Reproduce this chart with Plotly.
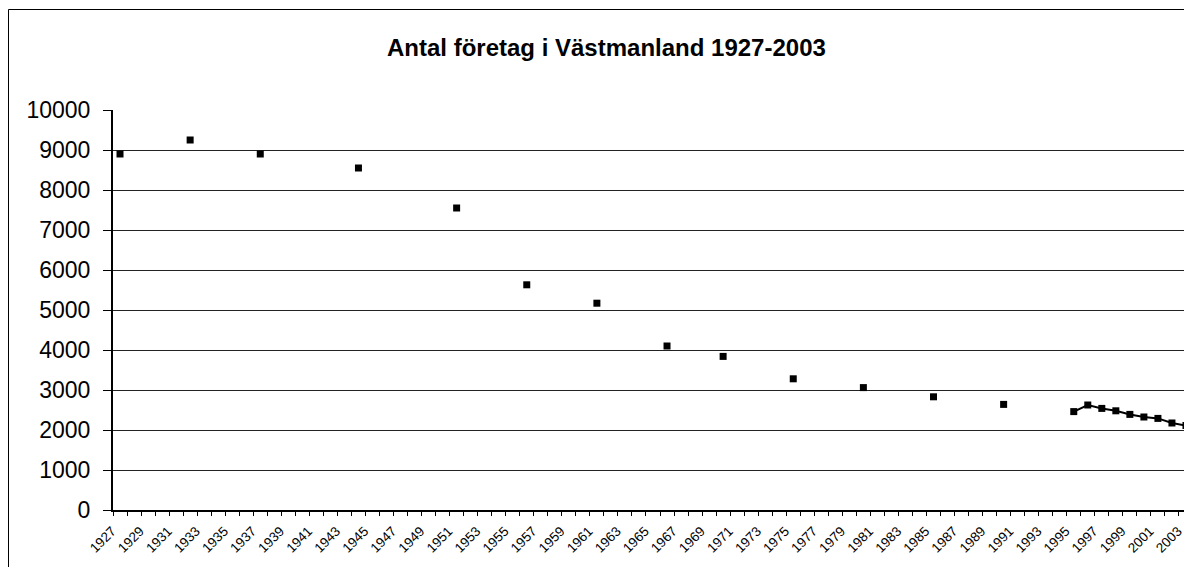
import plotly.graph_objects as go

# Observed data (year, number of companies)
years = [1927, 1932, 1937, 1944, 1951, 1956, 1961, 1966, 1970, 1975, 1980, 1985, 1990,
         1995, 1996, 1997, 1998, 1999, 2000, 2001, 2002, 2003]
values = [8900, 9250, 8900, 8550, 7550, 5630, 5170, 4100, 3840, 3280, 3060, 2830, 2640,
          2460, 2625, 2540, 2480, 2390, 2325, 2290, 2175, 2110]

categories = list(range(1927, 2004))
tick_labels = [str(y) for y in range(1927, 2004, 2)]
y_ticks = list(range(0, 10001, 1000))

title_text = "Antal företag i Västmanland 1927-2003"

lookup = dict(zip(years, values))
series = [lookup.get(c) for c in categories]

FONT = "Liberation Sans, Arial, sans-serif"
OFF = 8  # page body margin
W, H = 1192 - OFF, 567 - OFF
L, R, T, B = 113 - OFF, 0, 110 - OFF, 57


def px_x(p):
    return (p - OFF - L) / (W - L - R)


def px_y(p):
    return (H - B - (p - OFF)) / (H - T - B)


XR = [1926.5, 2003.43]

fig = go.Figure()
fig.add_trace(go.Scatter(
    x=categories, y=series, mode="lines+markers", connectgaps=False,
    line=dict(color="black", width=2),
    marker=dict(symbol="square", size=7, color="black"),
    showlegend=False, cliponaxis=False,
))
# invisible trace on the tick-mark axis
fig.add_trace(go.Scatter(x=[XR[0]], y=[None], xaxis="x2", showlegend=False,
                         hoverinfo="skip", mode="markers"))

fig.update_layout(
    width=W, height=H,
    margin=dict(l=L, r=R, t=T, b=B, pad=0),
    paper_bgcolor="white", plot_bgcolor="white",
    font=dict(family=FONT, color="black"),
    xaxis=dict(
        range=XR, type="linear",
        tickmode="array", tickvals=list(range(1927, 2004, 2)), ticktext=tick_labels,
        tickangle=-45, tickfont=dict(size=13.5, family=FONT, color="black"),
        ticks="", ticklabeloverflow="allow", automargin=False,
        ticklabelshift=-8, ticklabelstandoff=6,
        showline=True, linecolor="black", linewidth=2,
        showgrid=False, zeroline=False,
    ),
    xaxis2=dict(
        range=XR, overlaying="x", anchor="y", side="bottom",
        tickmode="array", tickvals=[c - 0.5 for c in categories] + [2003.5],
        ticks="outside", ticklen=5, tickwidth=1, tickcolor="black",
        showticklabels=False, showgrid=False, zeroline=False, showline=False,
    ),
    yaxis=dict(
        range=[0, 10000], tickmode="array", tickvals=y_ticks,
        ticktext=[str(v) for v in y_ticks],
        tickfont=dict(size=23, family=FONT, color="black"),
        ticks="outside", ticklen=8, tickwidth=1, tickcolor="black",
        ticklabelstandoff=8,
        showline=True, linecolor="black", linewidth=2,
        showgrid=True, gridcolor="#222222", gridwidth=1, zeroline=False,
    ),
    annotations=[dict(
        text="<b>" + title_text + "</b>", xref="paper", yref="paper",
        x=px_x(606), y=px_y(47), xanchor="center", yanchor="middle",
        showarrow=False, font=dict(size=24, family=FONT, color="black"),
    )],
    shapes=[
        dict(type="line", xref="paper", yref="paper",
             x0=px_x(8.5), x1=px_x(8.5), y0=px_y(580), y1=px_y(9.5),
             line=dict(color="black", width=1)),
        dict(type="line", xref="paper", yref="paper",
             x0=px_x(8.5), x1=px_x(1210), y0=px_y(9.5), y1=px_y(9.5),
             line=dict(color="black", width=1)),
    ],
)

fig.write_html("out.html")
